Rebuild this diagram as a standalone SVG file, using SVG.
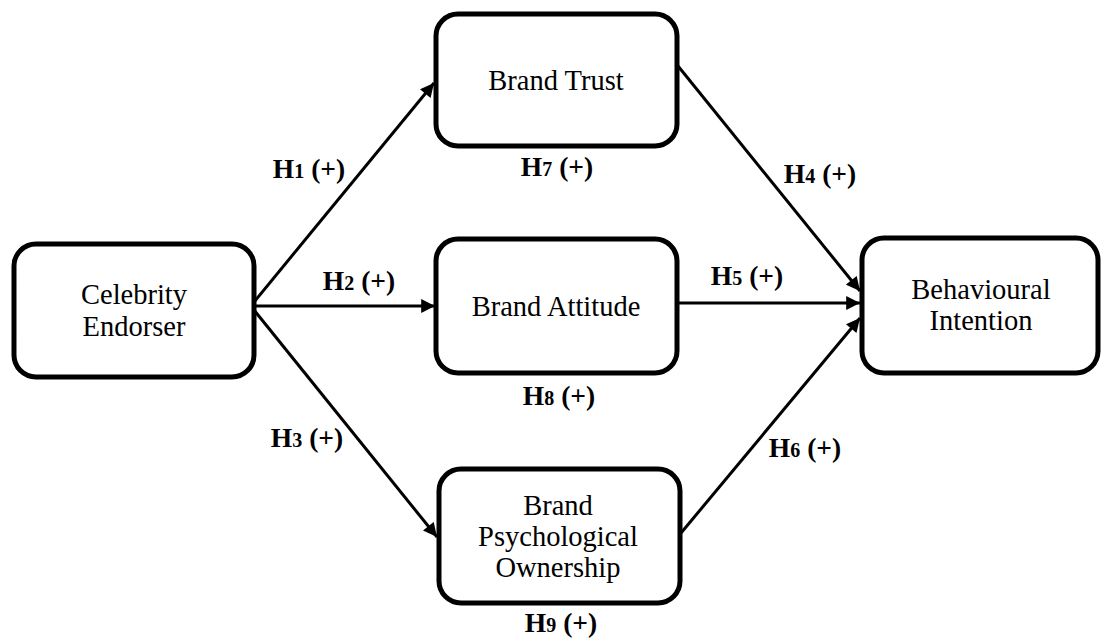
<svg xmlns="http://www.w3.org/2000/svg" width="1101" height="639" viewBox="0 0 1101 639">
<style>
.box{fill:#fff;stroke:#000;stroke-width:5}
.t{font-family:"Liberation Serif","DejaVu Serif",serif;font-size:28.5px;text-anchor:middle;fill:#000}
.l{font-family:"Liberation Serif","DejaVu Serif",serif;font-size:27.5px;font-weight:bold;text-anchor:middle;fill:#000}
.s{font-size:20px}
.c{stroke:#000;stroke-width:3;fill:none;marker-end:url(#ah)}
</style>
<defs>
<marker id="ah" viewBox="0 0 10 10" refX="10" refY="5" markerWidth="5.3" markerHeight="4.6" markerUnits="strokeWidth" orient="auto">
<path d="M0,0 L10,5 L0,10 z" fill="#000"/>
</marker>
</defs>
<rect width="1101" height="639" fill="#fff"/>
<g id="connectors">
<line class="c" x1="254" y1="302" x2="434" y2="83"/>
<line class="c" x1="254" y1="306" x2="435" y2="306"/>
<line class="c" x1="254" y1="310" x2="437" y2="537"/>
<line class="c" x1="678" y1="66" x2="860" y2="291"/>
<line class="c" x1="678" y1="303" x2="860" y2="303"/>
<line class="c" x1="681" y1="533" x2="860" y2="318"/>
</g>
<g id="node-celebrity">
<rect class="box" x="14" y="244" width="240" height="133" rx="22"/>
<text class="t" x="134" y="304">Celebrity</text>
<text class="t" x="134" y="336">Endorser</text>
</g>
<g id="node-trust">
<rect class="box" x="436" y="14" width="241" height="132" rx="22"/>
<text class="t" x="556" y="90">Brand Trust</text>
</g>
<g id="node-attitude">
<rect class="box" x="436" y="239" width="241" height="134" rx="22"/>
<text class="t" x="556" y="316">Brand Attitude</text>
</g>
<g id="node-ownership">
<rect class="box" x="439" y="469" width="241" height="134" rx="22"/>
<text class="t" x="558" y="515">Brand</text>
<text class="t" x="558" y="546">Psychological</text>
<text class="t" x="558" y="577">Ownership</text>
</g>
<g id="node-intention">
<rect class="box" x="862" y="238" width="236" height="135" rx="22"/>
<text class="t" x="981" y="299">Behavioural</text>
<text class="t" x="981" y="330">Intention</text>
</g>
<g id="labels">
<text class="l" x="309" y="178">H<tspan class="s">1</tspan> (+)</text>
<text class="l" x="359" y="290">H<tspan class="s">2</tspan> (+)</text>
<text class="l" x="307" y="447">H<tspan class="s">3</tspan> (+)</text>
<text class="l" x="820" y="183">H<tspan class="s">4</tspan> (+)</text>
<text class="l" x="747" y="285">H<tspan class="s">5</tspan> (+)</text>
<text class="l" x="805" y="457">H<tspan class="s">6</tspan> (+)</text>
<text class="l" x="557" y="176">H<tspan class="s">7</tspan> (+)</text>
<text class="l" x="559" y="405">H<tspan class="s">8</tspan> (+)</text>
<text class="l" x="561" y="632">H<tspan class="s">9</tspan> (+)</text>
</g>
</svg>
